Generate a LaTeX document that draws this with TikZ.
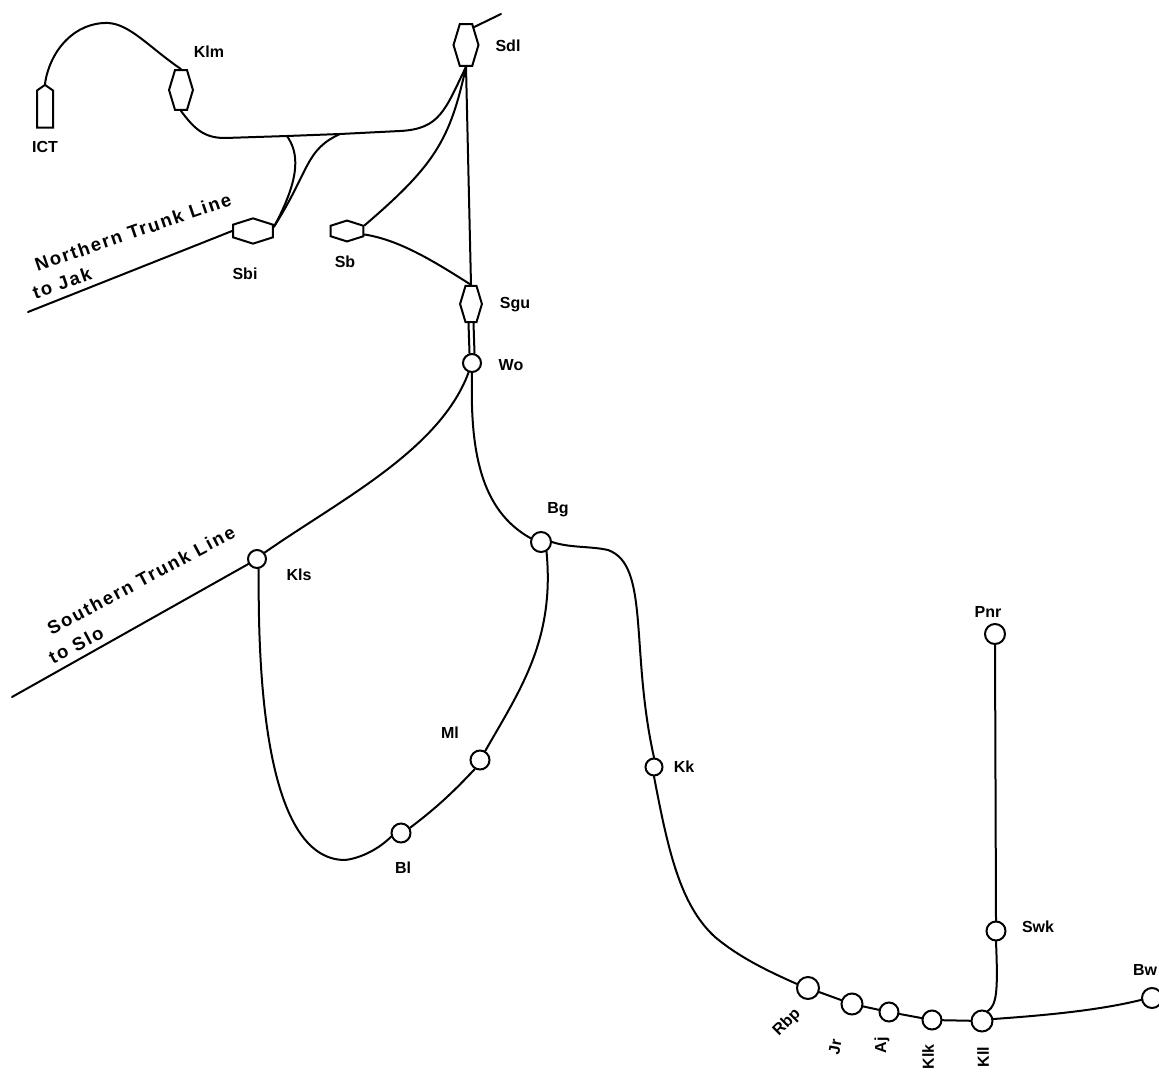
\documentclass[tikz,border=0pt]{standalone}
\usepackage{fontspec}
\setmainfont{Liberation Sans}
\newfontfamily\widefont[LetterSpace=10]{Liberation Sans}
\usepackage{tikz}
\usetikzlibrary{shapes.geometric, shapes.symbols}

\tikzset{
  stn/.style={draw, circle, line width=2pt, inner sep=0pt, minimum size=#1},
  stn/.default=18pt,
  yard/.style={draw, regular polygon, regular polygon sides=6, line width=2pt, inner sep=0pt, minimum size=#1, xscale=0.52, transform shape},
  flatyard/.style={draw, regular polygon, regular polygon sides=6, shape border rotate=90, line width=2pt, inner sep=0pt, minimum size=#1, yscale=0.55, transform shape},
  lab/.style={font=\bfseries\fontsize{16}{16}\selectfont},
  trunklab/.style={font=\widefont\bfseries\fontsize{18.5}{18.5}\selectfont},
  track/.style={line width=2pt, line cap=round}
}

\begin{document}
\begin{tikzpicture}[x=1pt, y=-1pt]
    \useasboundingbox (0,0) rectangle (1159,1073);

    % Yards
    \node[yard=48pt] (Sdl) at (466,45) {};
    \node[yard=46pt] (Klm) at (181,90) {};
    \node[yard=42pt] (Sgu) at (471,304) {};
    \node[flatyard=46pt] (Sbi) at (253,231) {};
    \node[flatyard=38pt] (Sb) at (347,231) {};
    \node[draw, signal, signal to=north, signal pointer angle=110, line width=2pt, inner sep=0pt, minimum width=16pt, minimum height=37pt] (ICT) at (45,109) {};

    % Stations
    \node[stn=18pt] (Wo) at (472,363) {};
    \node[stn=18pt] (Kls) at (257,559) {};
    \node[stn=20pt] (Bg) at (541,542) {};
    \node[stn=19pt] (Ml) at (480,760) {};
    \node[stn=19pt] (Bl) at (401,833) {};
    \node[stn=17pt] (Kk) at (654,767) {};
    \node[stn=22pt] (Rbp) at (808,988) {};
    \node[stn=21pt] (Jr) at (852,1004) {};
    \node[stn=19pt] (Aj) at (889,1012) {};
    \node[stn=19pt] (Klk) at (932,1020) {};
    \node[stn=21pt] (Kll) at (982,1021) {};
    \node[stn=19pt] (Swk) at (996,931) {};
    \node[stn=20pt] (Pnr) at (995,634) {};
    \node[stn=20pt] (Bw) at (1152,998) {};

    % Free ends and junctions
    \coordinate (nend) at (28,312);
    \coordinate (send) at (12,697);
    \coordinate (dend) at (501,14);
    \coordinate (jw) at (287,136);
    \coordinate (je) at (340,134);

    % Tracks in the north
    \draw[track] (ICT.north) .. controls (50,50) and (75,22) .. (108,23) .. controls (130,24) and (150,48) .. (Klm.north);
    \draw[track] (Klm.south) .. controls (195,130) and (205,138) .. (225,138) -- (jw) -- (je) -- (400,131) .. controls (440,129) and (445,110) .. (Sdl.south);
    \draw[track] (jw) .. controls (298,152) and (302,175) .. (Sbi.20);
    \draw[track] (je) .. controls (305,150) and (310,170) .. (Sbi.20);
    \draw[track] (Sdl.south) .. controls (450,140) and (435,165) .. (Sb.30);
    \draw[track] (Sb.-20) .. controls (400,240) and (435,262) .. (Sgu.north);
    \draw[track] (Sdl.south) -- (Sgu.north);
    \draw[track] ([xshift=-2.5pt]Sgu.south) -- ([xshift=-2.5pt]Wo.north);
    \draw[track] ([xshift=2.5pt]Sgu.south) -- ([xshift=2.5pt]Wo.north);
    \draw[track] (dend) -- (Sdl.50);
    \draw[track] (Sbi.west) -- (nend);

    % Tracks in the south
    \draw[track] (Wo.-110) .. controls (440,450) and (340,500) .. (Kls.40);
    \draw[track] (Wo.south) .. controls (470,450) and (480,510) .. (Bg.160);
    \draw[track] (Kls.-150) -- (send);
    \draw[track] (Kls.-80) .. controls (258,660) and (262,860) .. (345,860) .. controls (362,858) and (380,848) .. (Bl.200);
    \draw[track] (Bl.30) .. controls (440,805) and (455,790) .. (Ml.-120);
    \draw[track] (Ml.60) .. controls (520,690) and (555,640) .. (Bg.-60);
    \draw[track] (Bg.east) .. controls (570,548) and (590,546) .. (608,550) .. controls (650,565) and (630,650) .. (Kk.north);
    \draw[track] (Kk.south) .. controls (668,850) and (680,905) .. (715,937) .. controls (740,958) and (770,972) .. (Rbp.160);

    \draw[track] (Rbp) -- (Jr);
    \draw[track] (Jr) -- (Aj);
    \draw[track] (Aj) -- (Klk);
    \draw[track] (Klk) -- (Kll);
    \draw[track] (Kll.60) .. controls (997,1005) and (998,990) .. (Swk.south);
    \draw[track] (Swk.north) -- (Pnr.south);
    \draw[track] (Kll.10) .. controls (1050,1015) and (1100,1010) .. (Bw.190);

    % Labels
    \node[lab] (lKlm) at (209,52) {Klm};
    \node[lab] (lICT) at (45,147) {ICT};
    \node[lab] (lSdl) at (508,46) {Sdl};
    \node[lab] (lSgu) at (515,305) {Sgu};
    \node[lab] (lWo) at (511,365) {Wo};
    \node[lab] (lSbi) at (245,274) {Sbi};
    \node[lab] (lSb) at (345,262) {Sb};
    \node[lab] (lBg) at (558,510) {Bg};
    \node[lab] (lKls) at (299,575) {Kls};
    \node[lab] (lMl) at (450,733) {Ml};
    \node[lab] (lBl) at (403,868) {Bl};
    \node[lab] (lKk) at (684,767) {Kk};
    \node[lab] (lPnr) at (988,612) {Pnr};
    \node[lab] (lSwk) at (1038,927) {Swk};
    \node[lab] (lBw) at (1145,970) {Bw};
    \node[lab, rotate=45] (lRbp) at (787,1023) {Rbp};
    \node[lab, rotate=80] (lJr) at (835,1047) {Jr};
    \node[lab, rotate=90] (lAj) at (882,1045) {Aj};
    \node[lab, rotate=90] (lKlk) at (928,1057) {Klk};
    \node[lab, rotate=90] (lKll) at (983,1057) {Kll};

    \node[trunklab, rotate=19] (lnorth) at (133,232) {Northern Trunk Line};
    \node[trunklab, rotate=19] (ljak) at (62,283) {to Jak};
    \node[trunklab, rotate=28] (lsouth) at (141,580) {Southern Trunk Line};
    \node[trunklab, rotate=28] (lslo) at (76,645) {to Slo};
\end{tikzpicture}
\end{document}
